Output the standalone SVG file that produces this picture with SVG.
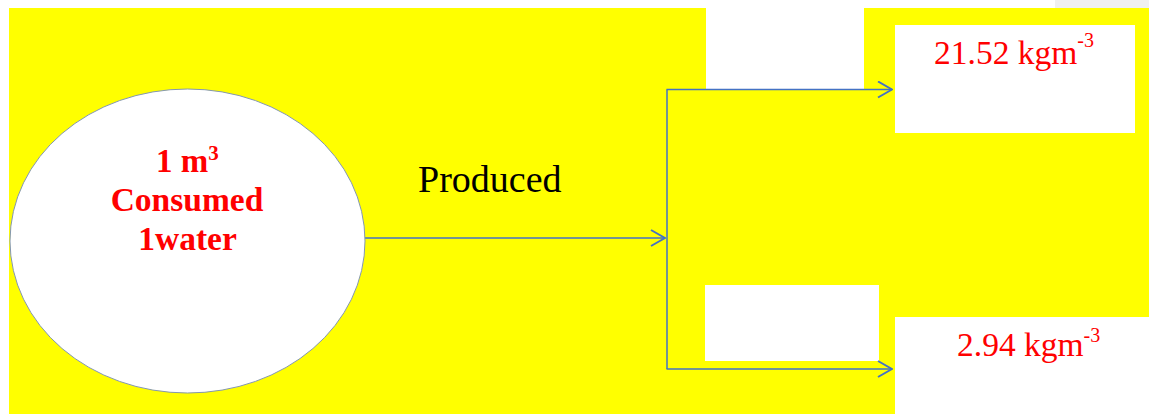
<svg xmlns="http://www.w3.org/2000/svg" width="1149" height="414" viewBox="0 0 1149 414">
  <style>
    .bg { fill: #ffff00; }
    .blank { fill: #ffffff; }
    .conn { fill: none; stroke: #4472c4; stroke-width: 1.5; }
    .node-red { font-family: "Liberation Serif", "Times New Roman", serif; fill: #ff0000; }
    .bold { font-weight: bold; }
    .label { font-family: "Liberation Serif", "Times New Roman", serif; fill: #000000; }
  </style>
  <defs>
    <marker id="arrow" viewBox="0 0 16 18" refX="15" refY="9" markerWidth="16" markerHeight="18" markerUnits="userSpaceOnUse" orient="auto">
      <path d="M1,1 L15,9 L1,17" fill="none" stroke="#4472c4" stroke-width="2"/>
    </marker>
  </defs>

  <!-- page and yellow panel -->
  <rect x="0" y="0" width="1149" height="414" fill="#ffffff"/>
  <rect x="1055" y="0" width="94" height="8" fill="#f0f0f0"/>
  <rect class="bg" x="9" y="8" width="1140" height="406"/>

  <!-- white cut-outs in the panel -->
  <rect class="blank" x="706" y="0" width="158" height="90"/>
  <rect class="blank" x="705" y="285" width="174" height="76"/>
  <rect class="blank" x="895" y="317" width="254" height="97"/>

  <!-- connectors -->
  <g id="connectors">
    <line class="conn" x1="365" y1="238" x2="665" y2="238" marker-end="url(#arrow)"/>
    <line class="conn" x1="667" y1="89.5" x2="667" y2="369"/>
    <line class="conn" x1="666.5" y1="89.5" x2="892" y2="89.5" marker-end="url(#arrow)"/>
    <line class="conn" x1="666.5" y1="369" x2="892" y2="369" marker-end="url(#arrow)"/>
  </g>

  <!-- source: consumed water -->
  <g id="node-water">
    <ellipse cx="187.5" cy="241" rx="177.5" ry="152" fill="#ffffff" stroke="#8497b0" stroke-width="1"/>
    <text class="node-red bold" x="156" y="172" font-size="33">1 m<tspan font-size="21" dy="-12">3</tspan></text>
    <text class="node-red bold" x="187" y="211" font-size="33.5" text-anchor="middle">Consumed</text>
    <text class="node-red bold" x="187.5" y="250" font-size="33.5" text-anchor="middle">1water</text>
  </g>

  <!-- connector label -->
  <g id="label-produced">
    <text class="label" x="418" y="192" font-size="38">Produced</text>
  </g>

  <!-- output: upper -->
  <g id="node-out-upper">
    <rect class="blank" x="895" y="25" width="240" height="108"/>
    <text class="node-red" x="934" y="64" font-size="33.5">21.52 kgm<tspan font-size="20" dy="-17">-3</tspan></text>
  </g>

  <!-- output: lower -->
  <g id="node-out-lower">
    <text class="node-red" x="957" y="356" font-size="33.5">2.94 kgm<tspan font-size="20" dy="-14">-3</tspan></text>
  </g>
</svg>
